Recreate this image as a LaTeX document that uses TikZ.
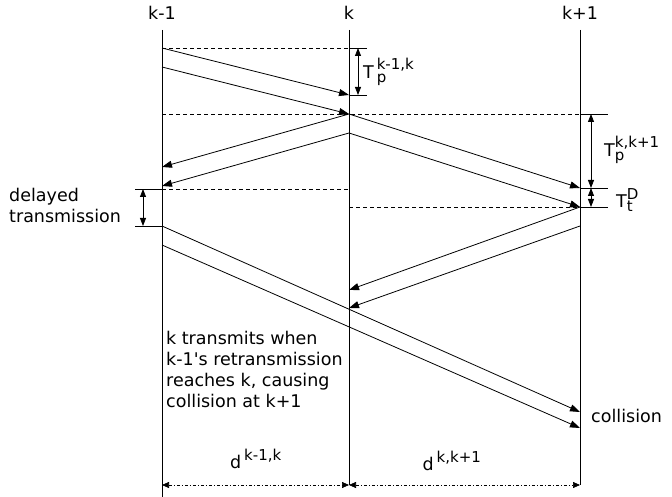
\documentclass[tikz,border=0pt]{standalone}
\usepackage{fontspec}
\setmainfont{DejaVu Sans}
\usetikzlibrary{arrows.meta}
\newcommand{\scr}[1]{\mbox{\fontsize{15}{15}\selectfont #1}}

\begin{document}
\begin{tikzpicture}[x=1pt,y=-1pt,
  font=\fontsize{17.5}{21}\selectfont,
  station/.style={line width=0.8pt},
  frame/.style={-{Triangle[length=10pt,width=7pt]},line width=0.8pt},
  guide/.style={line width=0.7pt,dash pattern=on 4pt off 3pt},
  tick/.style={line width=0.8pt},
  span/.style={{Triangle[length=8pt,width=6pt]}-{Triangle[length=8pt,width=6pt]},line width=0.8pt},
  dist/.style={{Triangle[length=7pt,width=6pt]}-{Triangle[length=7pt,width=6pt]},
    line width=0.7pt,dash pattern=on 3pt off 2pt on 1pt off 2pt},
  lbl/.style={inner sep=0pt,anchor=west}]
  \useasboundingbox (0,0) rectangle (672,497);

  % stations
  \node (km1) at (162,13) {k-1};
  \node (k) at (349,13) {k};
  \node (kp1) at (580,13) {k+1};

  \coordinate (L30) at (162,30);  \coordinate (L497) at (162,497);
  \coordinate (L48) at (162,48);  \coordinate (L67) at (162,67);
  \coordinate (L114) at (162,114); \coordinate (L167) at (162,167);
  \coordinate (L186) at (162,186); \coordinate (L189) at (162,189);
  \coordinate (L226) at (162,226); \coordinate (L245) at (162,245);
  \coordinate (L485) at (162,485);

  \coordinate (M30) at (349,30);  \coordinate (M485) at (349,485);
  \coordinate (M48) at (349,48);  \coordinate (M95) at (349,95);
  \coordinate (M114) at (349,114); \coordinate (M133) at (349,133);
  \coordinate (M189) at (349,189); \coordinate (M207) at (349,207);
  \coordinate (M290) at (349,290); \coordinate (M308) at (349,308);

  \coordinate (R30) at (580,30);  \coordinate (R485) at (580,485);
  \coordinate (R114) at (580,114); \coordinate (R188) at (580,188);
  \coordinate (R207) at (580,207); \coordinate (R226) at (580,226);
  \coordinate (R412) at (580,412); \coordinate (R428) at (580,428);

  \draw[station] (L30) -- (L497);
  \draw[station] (M30) -- (M485);
  \draw[station] (R30) -- (R485);

  % time marks
  \draw[guide] (L48) -- (M48);
  \draw[guide] (L114) -- (R114);
  \draw[guide] (L189) -- (M189);
  \draw[guide] (M207) -- (R207);
  \draw[tick] (M48) -- ++(18,0) coordinate (tA);
  \draw[tick] (M95) -- ++(18,0) coordinate (tB);
  \draw[tick] (R114) -- ++(28,0) coordinate (tC);
  \draw[tick] (R188) -- ++(28,0) coordinate (tD);
  \draw[tick] (R207) -- ++(28,0) coordinate (tE);
  \draw[tick] (L189) -- ++(-27,0) coordinate (tF);
  \draw[tick] (L226) -- ++(-27,0) coordinate (tG);

  % frames
  \draw[frame] (L48) -- (M95);
  \draw[frame] (L67) -- (M114);
  \draw[frame] (M114) -- (L167);
  \draw[frame] (M133) -- (L186);
  \draw[frame] (M114) -- (R188);
  \draw[frame] (M133) -- (R207);
  \draw[frame] (R207) -- (M290);
  \draw[frame] (R226) -- (M308);
  \draw[frame] (L226) -- (R412);
  \draw[frame] (L245) -- (R428);

  % intervals
  \draw[span] (358,48) coordinate (sA) -- (358,95) coordinate (sB);
  \draw[span] (591,114) coordinate (sC) -- (591,188) coordinate (sD);
  \draw[span] (sD) -- (591,207) coordinate (sE);
  \draw[span] (143,189) coordinate (sF) -- (143,226) coordinate (sG);
  \draw[dist] (L485) -- (M485);
  \draw[dist] (M485) -- (R485);

  \node[lbl] (tp1) at (363,72) {${\mbox{T\,}}_{\scr{p}}^{\scr{k-1,k}}$};
  \node[lbl] (tp2) at (604,150) {${\mbox{T}}_{\scr{p}}^{\scr{k,k+1}}$};
  \node[lbl] (ttd) at (616,200) {${\mbox{T}}_{\scr{t}}^{\scr{D}}$};
  \node[lbl,align=left] (delay) at (9,205) {delayed\\transmission};
  \node[inner sep=0pt,anchor=north west,align=left] (note) at (166,331)
    {k transmits when\\k-1\textquotesingle s retransmission\\reaches k, causing\\collision at k+1};
  \node[lbl] (coll) at (591,416) {collision};
  \node (d1) at (256,459) {${\mbox{d\,}}^{\scr{k-1,k}}$};
  \node (d2) at (452,461) {${\mbox{d\,}}^{\scr{k,k+1}}$};
\end{tikzpicture}
\end{document}
